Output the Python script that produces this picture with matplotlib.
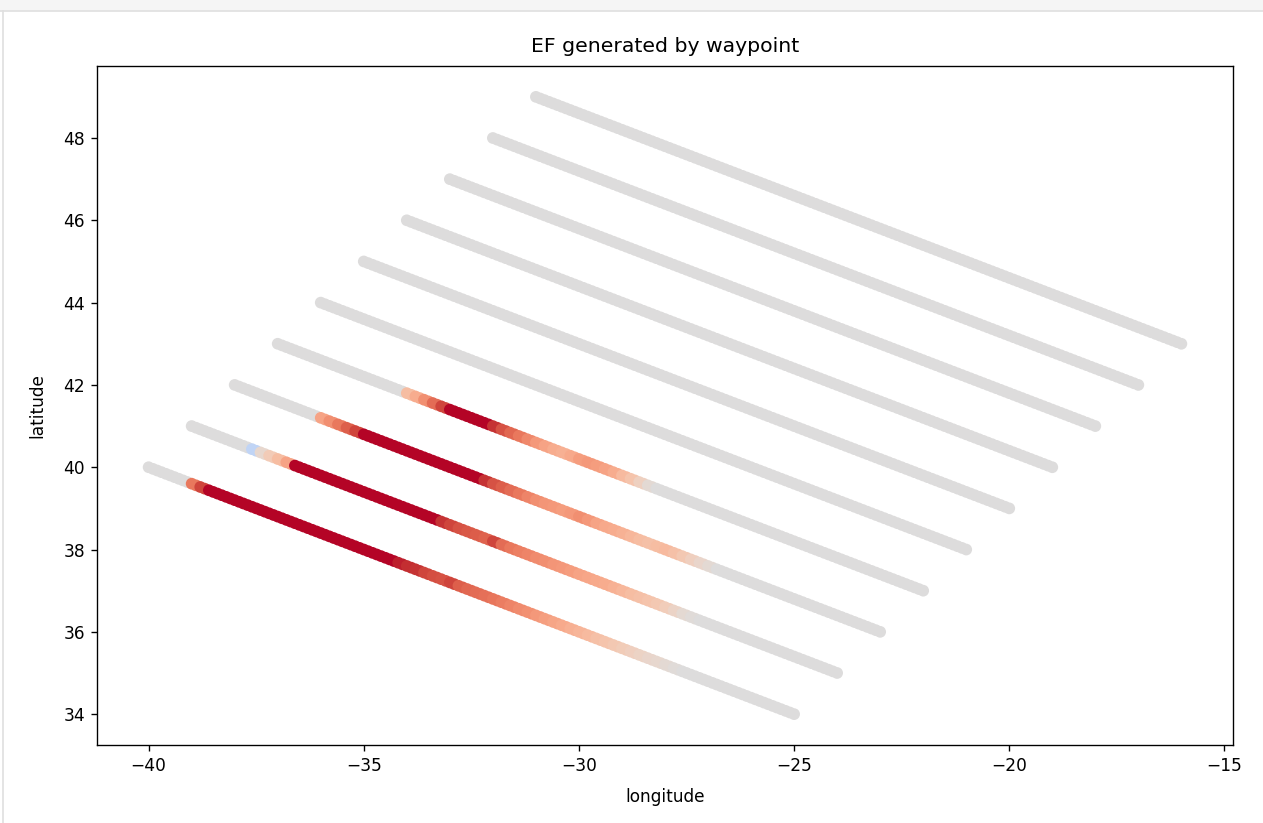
import matplotlib
matplotlib.use('Agg')
import matplotlib.pyplot as plt
import numpy as np
from matplotlib.patches import Rectangle
from matplotlib.lines import Line2D

# waypoint tracks: start (lon, lat) and end (lon, lat)
start_lon = [-40, -39, -38, -37, -36, -35, -34, -33, -32, -31]
start_lat = [40, 41, 42, 43, 44, 45, 46, 47, 48, 49]
end_lon = [-25, -24, -23, -22, -21, -20, -19, -18, -17, -16]
end_lat = [34, 35, 36, 37, 38, 39, 40, 41, 42, 43]
step = 0.1

# EF values, 0.2 deg apart, for the coloured part of tracks 0..3
ef_start = [-39.0, -37.6, -36.0, -34.0]
ef_track0 = [0.65, 0.85] + [1.0] * 22 + [0.95, 0.92] + [
    0.9, 0.85, 0.82, 0.8, 0.85, 0.75, 0.72, 0.7, 0.68, 0.66, 0.63, 0.6, 0.57,
    0.54, 0.5, 0.47, 0.44, 0.41, 0.38, 0.35, 0.32, 0.28, 0.25, 0.22, 0.19,
    0.16, 0.13, 0.1, 0.08, 0.05, 0.03]
ef_track1 = [-0.2, 0.08, 0.2, 0.3, 0.45] + [1.0] * 17 + [
    0.9, 0.85, 0.8, 0.78, 0.76, 0.74, 0.85, 0.7, 0.65, 0.62, 0.6, 0.57, 0.55,
    0.52, 0.5, 0.48, 0.45, 0.43, 0.42, 0.4, 0.37, 0.34, 0.3, 0.28, 0.25, 0.22,
    0.18, 0.12, 0.06, 0.03]
ef_track2 = [0.45, 0.55, 0.65, 0.75, 0.85] + [1.0] * 14 + [
    0.9, 0.8, 0.75, 0.7, 0.65, 0.6, 0.55, 0.52, 0.5, 0.48, 0.5, 0.55, 0.5,
    0.45, 0.42, 0.4, 0.37, 0.34, 0.3, 0.28, 0.3, 0.32, 0.28, 0.22, 0.16, 0.1,
    0.05]
ef_track3 = [0.3, 0.4, 0.55, 0.7, 0.85] + [1.0] * 5 + [
    0.9, 0.8, 0.72, 0.65, 0.58, 0.5, 0.45, 0.4, 0.38, 0.42, 0.48, 0.5, 0.48,
    0.45, 0.4, 0.32, 0.25, 0.15, 0.05]
ef_tracks = [ef_track0, ef_track1, ef_track2, ef_track3]

dpi = 122
fig = plt.figure(figsize=(1263 / dpi, 823 / dpi), dpi=dpi)
# notebook frame
fig.patches.append(Rectangle((0, 812 / 823), 1, 11 / 823, transform=fig.transFigure,
                             facecolor='#f5f5f5', edgecolor='none', zorder=0))
fig.lines.append(Line2D([0, 1], [812 / 823, 812 / 823], transform=fig.transFigure,
                        color='#e0e0e0', lw=1))
fig.lines.append(Line2D([3 / 1263, 3 / 1263], [0, 812 / 823], transform=fig.transFigure,
                        color='#e0e0e0', lw=1))

ax = fig.add_axes([97 / 1263, 78 / 823, 1136 / 1263, 679 / 823])

lons, lats, efs = [], [], []
for i in range(len(start_lon)):
    n = int(round((end_lon[i] - start_lon[i]) / step)) + 1
    lon = np.linspace(start_lon[i], end_lon[i], n)
    lat = np.linspace(start_lat[i], end_lat[i], n)
    ef = np.zeros(n)
    if i < len(ef_tracks):
        vals = np.repeat(ef_tracks[i], 2)
        k0 = int(round((ef_start[i] - start_lon[i]) / step))
        ef[k0:k0 + len(vals)] = vals[:n - k0]
    lons.append(lon)
    lats.append(lat)
    efs.append(ef)

lons = np.concatenate(lons)
lats = np.concatenate(lats)
efs = np.concatenate(efs)

ax.scatter(lons, lats, c=efs, cmap='coolwarm', vmin=-1, vmax=1, s=48, linewidths=0)

ax.set_title('EF generated by waypoint', pad=8)
ax.set_xlabel('longitude', labelpad=8)
ax.set_ylabel('latitude', labelpad=10)
ax.set_xlim(-41.2, -14.8)
ax.set_ylim(33.25, 49.75)

fig.savefig('out.png', dpi=dpi)
